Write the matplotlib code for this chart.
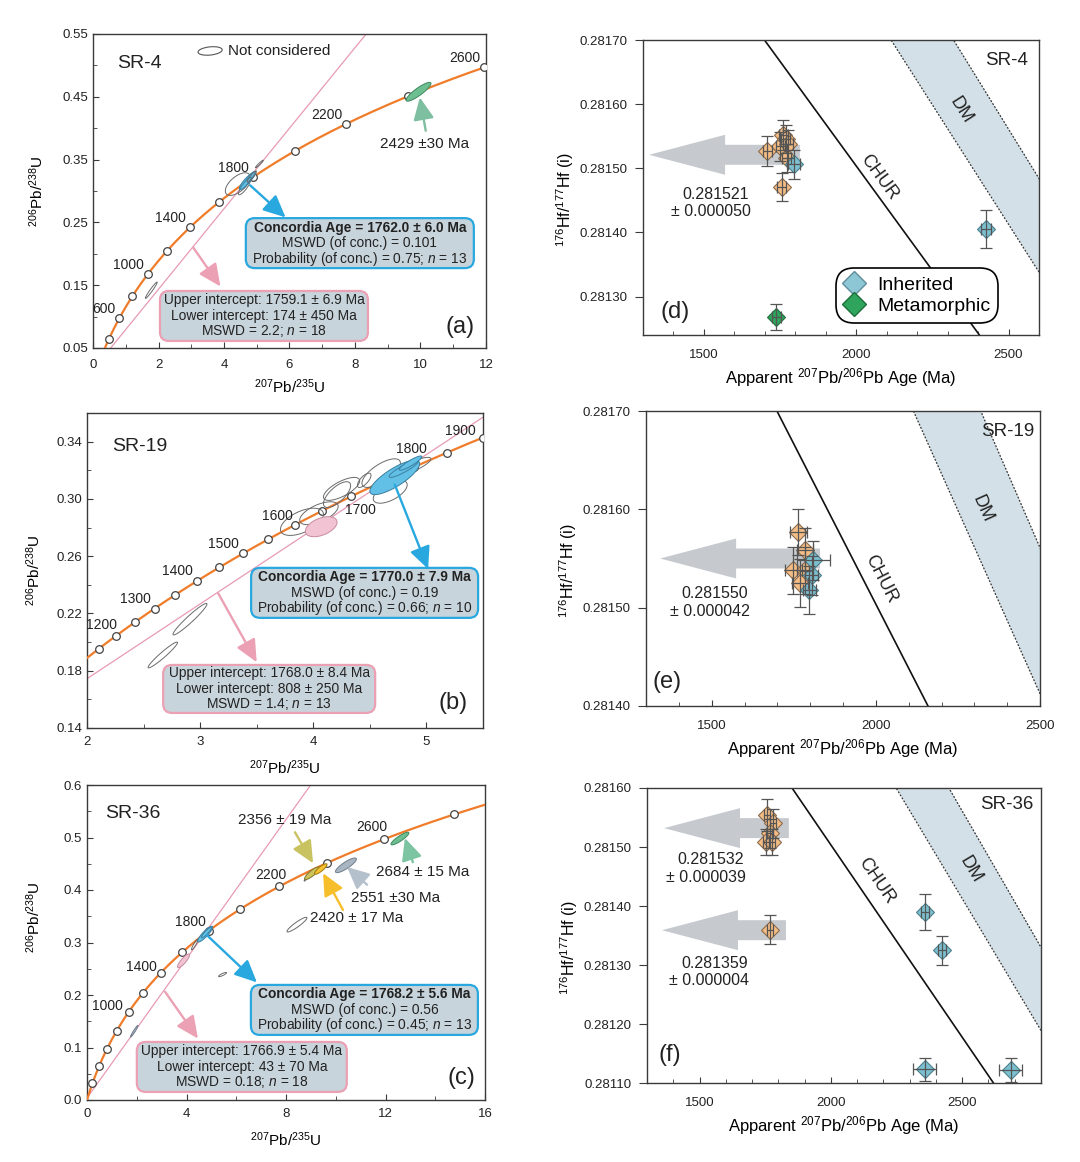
import numpy as np
import matplotlib
matplotlib.use("Agg")
import matplotlib.pyplot as plt
from matplotlib.patches import FancyBboxPatch, Ellipse, FancyArrow
from matplotlib.lines import Line2D
from matplotlib.ticker import FormatStrFormatter

plt.rcParams['font.family'] = ['Liberation Sans', 'DejaVu Sans']
plt.rcParams['mathtext.fontset'] = 'custom'
plt.rcParams['mathtext.rm'] = 'Liberation Sans'
plt.rcParams['mathtext.it'] = 'Liberation Sans:italic'
plt.rcParams['mathtext.bf'] = 'Liberation Sans:bold'

FIG_W, FIG_H = 1080, 1162

# decay constants (1/yr) used for the concordia curve
LAMBDA_238 = 1.55125e-10
LAMBDA_235 = 9.8485e-10

# ---------------- U-Pb concordia data ----------------
# SR-4 (a)
a_tick_ages = [400, 600, 800, 1000, 1200, 1400, 1600, 1800, 2000, 2200, 2400, 2600]
a_label_ages = [600, 1000, 1400, 1800, 2200, 2600]
a_conc = [1762.0, 6.0]
a_conc_mswd, a_conc_prob, a_conc_n = 0.101, 0.75, 13
a_upper = [1759.1, 6.9]
a_lower = [174, 450]
a_disc_mswd, a_disc_n = 2.2, 18
a_single = [(2429, 30)]
# ellipses: group, 207/235, 206/238, half-range x, half-range y, rho
a_ellipses = [
    ('grey', 1.78, 0.142, 0.18, 0.013, 0.97),
    ('grey', 4.42, 0.311, 0.38, 0.018, 0.60),
    ('grey', 5.08, 0.343, 0.12, 0.006, 0.96),
    ('grey', 4.62, 0.306, 0.18, 0.012, 0.85),
    ('blue', 4.72, 0.317, 0.25, 0.014, 0.90),
    ('blue', 4.80, 0.321, 0.16, 0.010, 0.92),
    ('blue', 4.66, 0.312, 0.17, 0.010, 0.92),
    ('grey', 4.85, 0.323, 0.14, 0.009, 0.92),
    ('green', 9.94, 0.458, 0.38, 0.015, 0.88),
]

# SR-19 (b)
b_tick_ages = [1150, 1200, 1250, 1300, 1350, 1400, 1450, 1500, 1550, 1600,
               1650, 1700, 1750, 1800, 1850, 1900]
b_label_ages = [1200, 1300, 1400, 1500, 1600, 1700, 1800, 1900]
b_conc = [1770.0, 7.9]
b_conc_mswd, b_conc_prob, b_conc_n = 0.19, 0.66, 10
b_upper = [1768.0, 8.4]
b_lower = [808, 250]
b_disc_mswd, b_disc_n = 1.4, 13
b_ellipses = [
    ('grey', 2.67, 0.191, 0.13, 0.009, 0.96),
    ('grey', 2.91, 0.216, 0.15, 0.011, 0.96),
    ('grey', 3.90, 0.284, 0.19, 0.0095, 0.55),
    ('grey', 4.05, 0.290, 0.17, 0.008, 0.60),
    ('pink', 4.07, 0.2806, 0.14, 0.007, 0.45),
    ('grey', 4.21, 0.303, 0.12, 0.009, 0.70),
    ('grey', 4.25, 0.307, 0.16, 0.008, 0.70),
    ('grey', 4.45, 0.313, 0.06, 0.005, 0.70),
    ('grey', 4.60, 0.318, 0.17, 0.010, 0.70),
    ('grey', 4.68, 0.305, 0.15, 0.008, 0.60),
    ('grey', 4.86, 0.322, 0.18, 0.007, 0.85),
    ('blue', 4.72, 0.315, 0.22, 0.012, 0.80),
    ('blue', 4.80, 0.321, 0.13, 0.006, 0.90),
    ('blue', 4.86, 0.325, 0.10, 0.005, 0.90),
]

# SR-36 (c)
c_tick_ages = [200, 400, 600, 800, 1000, 1200, 1400, 1600, 1800, 2000, 2200,
               2400, 2600, 2800]
c_label_ages = [1000, 1400, 1800, 2200, 2600]
c_conc = [1768.2, 5.6]
c_conc_mswd, c_conc_prob, c_conc_n = 0.56, 0.45, 13
c_upper = [1766.9, 5.4]
c_lower = [43, 70]
c_disc_mswd, c_disc_n = 0.18, 18
c_single = [(2356, 19), (2420, 17), (2551, 30), (2684, 15)]
c_ellipses = [
    ('slate', 1.90, 0.131, 0.15, 0.011, 0.96),
    ('pink', 3.88, 0.265, 0.24, 0.013, 0.85),
    ('grey', 4.33, 0.296, 0.13, 0.010, 0.92),
    ('blue', 4.75, 0.316, 0.30, 0.015, 0.88),
    ('blue', 4.80, 0.319, 0.20, 0.010, 0.90),
    ('grey', 5.45, 0.239, 0.16, 0.004, 0.85),
    ('grey', 8.44, 0.334, 0.40, 0.014, 0.92),
    ('grey', 8.85, 0.425, 0.12, 0.008, 0.92),
    ('olive', 9.05, 0.432, 0.30, 0.012, 0.85),
    ('yellow', 9.40, 0.440, 0.25, 0.010, 0.85),
    ('slate', 10.41, 0.447, 0.42, 0.014, 0.85),
    ('green', 12.58, 0.498, 0.36, 0.012, 0.88),
]

# ---------------- Lu-Hf data ----------------
chur_ages = [1300, 2800]
chur_hf = [0.281960, 0.280982]
dm_ages = [1300, 2800]
dm_lower = [0.282307, 0.281189]
dm_upper = [0.282485, 0.281330]

# SR-4 (d)
d_core_age = [1708, 1750, 1760, 1768, 1776, 1772, 1755]
d_core_hf = [0.281527, 0.281534, 0.281552, 0.281546, 0.281538, 0.281516, 0.281471]
d_core_age_err = [15, 15, 15, 15, 15, 15, 15]
d_core_hf_err = [0.000023, 0.000022, 0.000023, 0.000022, 0.000022, 0.000022, 0.000022]
d_inh_age = [1797, 2426]
d_inh_hf = [0.281506, 0.281405]
d_inh_age_err = [20, 15]
d_inh_hf_err = [0.000023, 0.000030]
d_met_age = [1737]
d_met_hf = [0.281268]
d_met_age_err = [15]
d_met_hf_err = [0.000020]
d_means = [0.281521]
d_mean_errs = [0.000050]

# SR-19 (e)
e_core_age = [1764, 1784, 1749, 1784, 1769]
e_core_hf = [0.281577, 0.281559, 0.281538, 0.281538, 0.281525]
e_core_age_err = [25, 25, 25, 25, 25]
e_core_hf_err = [0.000023, 0.000022, 0.000024, 0.000024, 0.000024]
e_inh_age = [1810, 1805, 1797]
e_inh_hf = [0.281548, 0.281533, 0.281518]
e_inh_age_err = [50, 20, 20]
e_inh_hf_err = [0.000020, 0.000020, 0.000024]
e_means = [0.281550]
e_mean_errs = [0.000042]

# SR-36 (f)
f_core_age = [1758, 1781, 1768, 1753, 1776, 1768]
f_core_hf = [0.281554, 0.281540, 0.281523, 0.281509, 0.281509, 0.281360]
f_core_age_err = [12, 12, 12, 12, 12, 12]
f_core_hf_err = [0.000027, 0.000025, 0.000024, 0.000022, 0.000022, 0.000025]
f_inh_age = [2358, 2422, 2358, 2685]
f_inh_hf = [0.281390, 0.281325, 0.281123, 0.281122]
f_inh_age_err = [15, 15, 44, 44]
f_inh_hf_err = [0.000030, 0.000025, 0.000020, 0.000020]
f_means = [0.281532, 0.281359]
f_mean_errs = [0.000039, 0.000004]

# ---------------- styles ----------------
ELL_STYLE = {
    'grey': dict(fc='none', ec='#6a6a6a'),
    'blue': dict(fc='#62C0E6', ec='#3A7FA0'),
    'green': dict(fc='#6DBE91', ec='#3E8A60'),
    'pink': dict(fc='#F2C4D3', ec='#C98AA0'),
    'olive': dict(fc='#CFC45A', ec='#7E7630'),
    'yellow': dict(fc='#F6C22E', ec='#9E7A10'),
    'slate': dict(fc='#A9B6C2', ec='#6F7E8C'),
}
ORANGE = '#F07C2A'
PINK_LINE = '#E89AB5'
BLUE_ARROW = '#29A8E0'
PINK_ARROW = '#EBA0B4'
BOX_FACE = '#C8D4DB'


def concordia(age_ma):
    t = np.asarray(age_ma, dtype=float) * 1e6
    return np.exp(LAMBDA_235 * t) - 1, np.exp(LAMBDA_238 * t) - 1


fig = plt.figure(figsize=(FIG_W / 100, FIG_H / 100), dpi=100)


def add_ax(l, t, r, b):
    return fig.add_axes([l / FIG_W, 1 - b / FIG_H, (r - l) / FIG_W, (b - t) / FIG_H])


def px_size(ax):
    p = ax.get_position()
    return p.width * FIG_W, p.height * FIG_H


def style_ax(ax, ydir='in', fs=9.5):
    for s in ax.spines.values():
        s.set_color('#3a3a3a')
        s.set_linewidth(1.0)
    ax.tick_params(which='both', direction='in', colors='#3a3a3a',
                   labelcolor='#222222', labelsize=fs)
    ax.tick_params(axis='y', which='both', direction=ydir)
    ax.tick_params(which='major', length=4)
    ax.tick_params(which='minor', length=3)
    ax.tick_params(axis='x', which='major', pad=8)


def draw_ellipses(ax, ells):
    t = np.linspace(0, 2 * np.pi, 90)
    for g, x, y, sx, sy, rho in ells:
        ex = x + sx * np.cos(t)
        ey = y + sy * (rho * np.cos(t) + np.sqrt(1 - rho ** 2) * np.sin(t))
        st = ELL_STYLE[g]
        ax.fill(ex, ey, fc=st['fc'], ec=st['ec'], lw=0.7, zorder=5)


def draw_concordia(ax, tick_ages, label_ages, offsets, upper, lower):
    ages = np.linspace(1, 3200, 900)
    cx, cy = concordia(ages)
    ax.plot(cx, cy, color=ORANGE, lw=1.6, zorder=3)
    tx, ty = concordia(tick_ages)
    ax.plot(tx, ty, 'o', ms=5.5, mfc='white', mec='#444444', mew=0.9, zorder=4)
    for age, (dx, dy, ha, va) in zip(label_ages, offsets):
        x, y = concordia(age)
        ax.annotate(str(age), (x, y), xytext=(dx * 0.72, dy * 0.72),
                    textcoords='offset points', ha=ha, va=va, fontsize=10,
                    color='#222222', zorder=7)
    # discordia through the two intercepts
    p1 = concordia(lower[0])
    p2 = concordia(upper[0])
    ax.axline((float(p1[0]), float(p1[1])), (float(p2[0]), float(p2[1])),
              color=PINK_LINE, lw=0.9, zorder=2)


def arrow(ax, start, end, color, lw=1.7):
    ax.annotate('', xy=end, xytext=start,
                arrowprops=dict(arrowstyle='-|>,head_length=0.9,head_width=0.42',
                                color=color, lw=lw, mutation_scale=15,
                                shrinkA=0, shrinkB=0), zorder=7)


def stat_box(ax, cx, cy, w_px, h_px, ec, lines, fs=9.9):
    W, H = px_size(ax)
    bw, bh = w_px / W, h_px / H
    patch = FancyBboxPatch((cx - bw / 2, cy - bh / 2), bw, bh,
                           boxstyle=f"round,pad=0,rounding_size={9 / W}",
                           mutation_aspect=W / H, transform=ax.transAxes,
                           fc=BOX_FACE, ec=ec, lw=1.6, zorder=8, clip_on=False)
    ax.add_patch(patch)
    dy = 15.5 / H
    for i, (txt, bold) in enumerate(lines):
        ax.text(cx, cy + (1 - i) * dy, txt, transform=ax.transAxes, ha='center',
                va='center', fontsize=fs, fontweight='bold' if bold else 'normal',
                color='#222222', zorder=9)


def conc_lines(conc, mswd, prob, n):
    return [(f"Concordia Age = {conc[0]:.1f} ± {conc[1]:.1f} Ma", True),
            (f"MSWD (of conc.) = {mswd:g}", False),
            (f"Probability (of conc.) = {prob:g}; $n$ = {n}", False)]


def disc_lines(upper, lower, mswd, n):
    return [(f"Upper intercept: {upper[0]:.1f} ± {upper[1]:.1f} Ma", False),
            (f"Lower intercept: {lower[0]} ± {lower[1]} Ma", False),
            (f"MSWD = {mswd:g}; $n$ = {n}", False)]


def upb_labels(ax, xlab_y, ylab_x, ylab_y=0.5):
    ax.set_xlabel('$^{207}$Pb/$^{235}$U', fontsize=11)
    ax.set_ylabel('$^{206}$Pb/$^{238}$U', fontsize=11)
    ax.xaxis.set_label_coords(0.5, xlab_y)
    ax.yaxis.set_label_coords(ylab_x, ylab_y)


# ================= (a) SR-4 =================
ax = add_ax(93, 34, 486, 348)
style_ax(ax)
ax.set_xlim(0, 12)
ax.set_ylim(0.05, 0.55)
ax.set_xticks([0, 2, 4, 6, 8, 10, 12])
ax.set_xticks([1, 3, 5, 7, 9, 11], minor=True)
ax.set_yticks([0.05, 0.15, 0.25, 0.35, 0.45, 0.55])
ax.set_yticks([0.10, 0.20, 0.30, 0.40, 0.50], minor=True)
ax.yaxis.set_major_formatter(FormatStrFormatter('%.2f'))
draw_concordia(ax, a_tick_ages, a_label_ages, [(-4, 2, 'right', 'bottom')] * 6,
               a_upper, a_lower)
draw_ellipses(ax, a_ellipses)
arrow(ax, (4.8, 0.309), (5.88, 0.258), BLUE_ARROW)
arrow(ax, (3.06, 0.210), (3.89, 0.148), PINK_ARROW)
arrow(ax, (10.16, 0.396), (9.98, 0.449), '#7DBFA0')
ax.text(10.13, 0.375, f"{a_single[0][0]} ±{a_single[0][1]} Ma", ha='center',
        va='center', fontsize=11, color='#222222', zorder=7)
stat_box(ax, 0.679, 0.334, 228, 50, BLUE_ARROW,
         conc_lines(a_conc, a_conc_mswd, a_conc_prob, a_conc_n))
stat_box(ax, 0.435, 0.102, 208, 50, PINK_ARROW,
         disc_lines(a_upper, a_lower, a_disc_mswd, a_disc_n))
ax.add_patch(Ellipse((0.298, 0.946), 0.062, 0.026, angle=8, transform=ax.transAxes,
                     fc='none', ec='#555555', lw=0.8))
ax.text(0.343, 0.946, 'Not considered', transform=ax.transAxes, ha='left',
        va='center', fontsize=11, color='#222222')
ax.text(0.061, 0.906, 'SR-4', transform=ax.transAxes, ha='left', va='center',
        fontsize=14, color='#222222')
ax.text(0.934, 0.067, '(a)', transform=ax.transAxes, ha='center', va='center',
        fontsize=17, color='#222222')
upb_labels(ax, -0.095, -0.12)

# ================= (b) SR-19 =================
ax = add_ax(87, 413, 483, 728)
style_ax(ax)
ax.tick_params(axis='x', which='major', pad=6)
ax.set_xlim(2, 5.5)
ax.set_ylim(0.14, 0.36)
ax.set_xticks([2, 3, 4, 5])
ax.set_xticks([2.5, 3.5, 4.5], minor=True)
ax.set_yticks([0.14, 0.18, 0.22, 0.26, 0.30, 0.34])
ax.set_yticks([0.16, 0.20, 0.24, 0.28, 0.32, 0.36], minor=True)
ax.yaxis.set_major_formatter(FormatStrFormatter('%.2f'))
b_offsets = [(1, 4, 'right', 'bottom'), (-4, 3, 'right', 'bottom'),
             (-4, 3, 'right', 'bottom'), (-4, 2, 'right', 'bottom'),
             (-2, 2, 'right', 'bottom'), (-6, -7, 'left', 'top'),
             (-2, 11, 'center', 'bottom'), (-7, 0, 'right', 'bottom')]
draw_concordia(ax, b_tick_ages, b_label_ages, b_offsets, b_upper, b_lower)
draw_ellipses(ax, b_ellipses)
arrow(ax, (4.72, 0.310), (5.015, 0.251), BLUE_ARROW)
arrow(ax, (3.16, 0.234), (3.50, 0.186), PINK_ARROW)
stat_box(ax, 0.701, 0.429, 227, 50, BLUE_ARROW,
         conc_lines(b_conc, b_conc_mswd, b_conc_prob, b_conc_n))
stat_box(ax, 0.460, 0.124, 212, 48, PINK_ARROW,
         disc_lines(b_upper, b_lower, b_disc_mswd, b_disc_n))
ax.text(0.063, 0.895, 'SR-19', transform=ax.transAxes, ha='left', va='center',
        fontsize=14, color='#222222')
ax.text(0.924, 0.079, '(b)', transform=ax.transAxes, ha='center', va='center',
        fontsize=17, color='#222222')
upb_labels(ax, -0.095, -0.11)

# ================= (c) SR-36 =================
ax = add_ax(87, 785, 485, 1100)
style_ax(ax)
ax.tick_params(axis='x', which='major', pad=6)
ax.set_xlim(0, 16)
ax.set_ylim(0, 0.6)
ax.set_xticks([0, 4, 8, 12, 16])
ax.set_xticks([2, 6, 10, 14], minor=True)
ax.set_yticks([0.0, 0.1, 0.2, 0.3, 0.4, 0.5, 0.6])
ax.set_yticks([0.05, 0.15, 0.25, 0.35, 0.45, 0.55], minor=True)
ax.yaxis.set_major_formatter(FormatStrFormatter('%.1f'))
c_offsets = [(-6, -1, 'right', 'bottom'), (-4, -1, 'right', 'bottom'),
             (-3, 2, 'right', 'bottom'), (7, 4, 'right', 'bottom'),
             (3, 5, 'right', 'bottom')]
draw_concordia(ax, c_tick_ages, c_label_ages, c_offsets, c_upper, c_lower)
draw_ellipses(ax, c_ellipses)
arrow(ax, (4.82, 0.314), (6.83, 0.224), BLUE_ARROW)
arrow(ax, (3.14, 0.206), (4.46, 0.117), PINK_ARROW)
single_pos = [((7.94, 0.533), (8.36, 0.51), (9.09, 0.451), '#C9C261', ' '),
              ((10.85, 0.346), (10.29, 0.362), (9.49, 0.432), '#F5BE2A', ' '),
              ((12.42, 0.385), (11.26, 0.41), (10.45, 0.444), '#B4C0CC', ''),
              ((13.49, 0.435), (13.1, 0.453), (12.78, 0.499), '#7CC4A2', ' ')]
for (age, err), (tpos, s, e, col, sp) in zip(c_single, single_pos):
    arrow(ax, s, e, col)
    ax.text(tpos[0], tpos[1], f"{age} ±{sp}{err} Ma", ha='center', va='center',
            fontsize=11, color='#222222', zorder=7)
stat_box(ax, 0.697, 0.286, 227, 50, BLUE_ARROW,
         conc_lines(c_conc, c_conc_mswd, c_conc_prob, c_conc_n))
stat_box(ax, 0.389, 0.105, 210, 50, PINK_ARROW,
         disc_lines(c_upper, c_lower, c_disc_mswd, c_disc_n))
ax.text(0.045, 0.911, 'SR-36', transform=ax.transAxes, ha='left', va='center',
        fontsize=14, color='#222222')
ax.text(0.942, 0.070, '(c)', transform=ax.transAxes, ha='center', va='center',
        fontsize=17, color='#222222')
upb_labels(ax, -0.095, -0.11, 0.58)


# ================= Hf panels =================
def hf_base(ax, xlim, ylim, yticks, xminor):
    style_ax(ax, ydir='out', fs=9.5)
    ax.tick_params(axis='y', which='major', length=6, pad=5)
    ax.tick_params(axis='x', which='major', pad=10)
    ax.set_xlim(*xlim)
    ax.set_ylim(*ylim)
    ax.set_xticks([v for v in [1500, 2000, 2500] if xlim[0] <= v <= xlim[1]])
    ax.set_xticks(xminor, minor=True)
    ax.set_yticks(yticks)
    ax.yaxis.set_major_formatter(FormatStrFormatter('%.5f'))
    ax.fill_between(dm_ages, dm_lower, dm_upper, color='#D3E0E7', lw=0, zorder=1)
    for yy in (dm_lower, dm_upper):
        ax.plot(dm_ages, yy, color='#333333', lw=0.9, ls=(0, (1.5, 1.3)), zorder=2)
    ax.plot(chur_ages, chur_hf, color='#111111', lw=1.2, zorder=2)
    ax.set_xlabel('Apparent $^{207}$Pb/$^{206}$Pb Age (Ma)', fontsize=12)
    ax.set_ylabel('$^{176}$Hf/$^{177}$Hf (i)', fontsize=11.5)
    ax.xaxis.set_label_coords(0.5, -0.105)
    ax.yaxis.set_label_coords(-0.17, 0.46)


def line_angle(ax, xs, ys):
    W, H = px_size(ax)
    xr = np.diff(ax.get_xlim())[0] / W
    yr = np.diff(ax.get_ylim())[0] / H
    return np.degrees(np.arctan2((ys[1] - ys[0]) / yr, (xs[1] - xs[0]) / xr))


def ref_labels(ax, chur_xy, dm_xy):
    ang_c = line_angle(ax, chur_ages, chur_hf)
    ang_d = line_angle(ax, dm_ages, dm_lower)
    ax.text(chur_xy[0], chur_xy[1], 'CHUR', rotation=ang_c, ha='center',
            va='center', fontsize=13, color='#222222', rotation_mode='anchor')
    ax.text(dm_xy[0], dm_xy[1], 'DM', rotation=ang_d, ha='center',
            va='center', fontsize=13, color='#222222', rotation_mode='anchor')


def mean_arrow(ax, y, x_tail, x_tip):
    W, H = px_size(ax)
    xr = np.diff(ax.get_xlim())[0] / W
    yr = np.diff(ax.get_ylim())[0] / H
    ax.add_patch(FancyArrow(x_tail, y, x_tip - x_tail, 0, width=20 * yr,
                            head_width=40 * yr, head_length=76 * xr,
                            length_includes_head=True, fc='#C6CACE', ec='none',
                            zorder=3))


def mean_text(ax, x, y, m, e):
    ax.text(x, y, f"{m:.6f}", transform=ax.transAxes, ha='right', va='center',
            fontsize=11.5, color='#222222')
    ax.text(x + 0.004, y - 0.058, f"± {e:.6f}", transform=ax.transAxes, ha='right',
            va='center', fontsize=11.5, color='#222222')


def hf_points(ax, age, hf, aerr, herr, fc, ec):
    ax.plot(age, hf, 'D', ms=9.5, mfc=fc, mec=ec, mew=0.8, ls='none', zorder=5)
    ax.errorbar(age, hf, xerr=aerr, yerr=herr, fmt='none', ecolor='#555555',
                elinewidth=0.9, capsize=4, capthick=0.9, zorder=6)


ORANGE_PT = ('#F4BD85', '#8C6B4C')
BLUE_PT = ('#7CC0D0', '#4A7F8C')
GREEN_PT = ('#2FA45C', '#1E6E3C')

# (d)
ax = add_ax(643, 40, 1039, 335)
hf_base(ax, (1300, 2600), (0.28124, 0.2817),
        [0.2813, 0.2814, 0.2815, 0.2816, 0.2817],
        [1400, 1600, 1700, 1800, 1900, 2100, 2200, 2300, 2400])
mean_arrow(ax, d_means[0], 1815, 1320)
hf_points(ax, d_core_age, d_core_hf, d_core_age_err, d_core_hf_err, *ORANGE_PT)
hf_points(ax, d_inh_age, d_inh_hf, d_inh_age_err, d_inh_hf_err, *BLUE_PT)
hf_points(ax, d_met_age, d_met_hf, d_met_age_err, d_met_hf_err, *GREEN_PT)
mean_text(ax, 0.268, 0.475, d_means[0], d_mean_errs[0])
ref_labels(ax, (2075, 0.281486), (2344, 0.281591))
ax.text(0.972, 0.93, 'SR-4', transform=ax.transAxes, ha='right', va='center',
        fontsize=13.5, color='#222222')
ax.text(0.081, 0.078, '(d)', transform=ax.transAxes, ha='center', va='center',
        fontsize=17, color='#222222')
handles = [Line2D([], [], marker='D', ls='none', ms=12, mfc='#8DC6D4', mec='#5E8E9A'),
           Line2D([], [], marker='D', ls='none', ms=12, mfc=GREEN_PT[0], mec=GREEN_PT[1])]
leg = ax.legend(handles, ['Inherited', 'Metamorphic'], loc='lower right',
                bbox_to_anchor=(0.896, 0.041), borderaxespad=0, fontsize=14,
                handlelength=1.0, handletextpad=0.7, borderpad=0.4,
                labelspacing=0.2, frameon=True, fancybox=True, framealpha=1,
                edgecolor='black')
leg.get_frame().set_linewidth(1.2)
leg.get_frame().set_boxstyle('round', pad=0, rounding_size=0.9)

# (e)
ax = add_ax(646, 411, 1040, 706)
hf_base(ax, (1300, 2500), (0.2814, 0.2817),
        [0.2814, 0.2815, 0.2816, 0.2817],
        [1400, 1600, 1700, 1800, 1900, 2100, 2200, 2300, 2400])
mean_arrow(ax, e_means[0], 1830, 1343)
hf_points(ax, e_core_age, e_core_hf, e_core_age_err, e_core_hf_err, *ORANGE_PT)
hf_points(ax, e_inh_age, e_inh_hf, e_inh_age_err, e_inh_hf_err, *BLUE_PT)
mean_text(ax, 0.259, 0.380, e_means[0], e_mean_errs[0])
ref_labels(ax, (2016, 0.281529), (2323, 0.281600))
ax.text(0.985, 0.932, 'SR-19', transform=ax.transAxes, ha='right', va='center',
        fontsize=13.5, color='#222222')
ax.text(0.053, 0.081, '(e)', transform=ax.transAxes, ha='center', va='center',
        fontsize=17, color='#222222')

# (f)
ax = add_ax(647, 788, 1041, 1083)
hf_base(ax, (1300, 2800), (0.2811, 0.2816),
        [0.2811, 0.2812, 0.2813, 0.2814, 0.2815, 0.2816],
        [1400, 1600, 1700, 1800, 1900, 2100, 2200, 2300, 2400, 2600, 2700])
mean_arrow(ax, f_means[0], 1840, 1365)
mean_arrow(ax, f_means[1], 1829, 1357)
hf_points(ax, f_core_age, f_core_hf, f_core_age_err, f_core_hf_err, *ORANGE_PT)
hf_points(ax, f_inh_age, f_inh_hf, f_inh_age_err, f_inh_hf_err, *BLUE_PT)
mean_text(ax, 0.246, 0.756, f_means[0], f_mean_errs[0])
mean_text(ax, 0.256, 0.405, f_means[1], f_mean_errs[1])
ref_labels(ax, (2172, 0.281442), (2533, 0.281461))
ax.text(0.98, 0.943, 'SR-36', transform=ax.transAxes, ha='right', va='center',
        fontsize=13.5, color='#222222')
ax.text(0.058, 0.095, '(f)', transform=ax.transAxes, ha='center', va='center',
        fontsize=17, color='#222222')

fig.savefig('out.png', dpi=100, facecolor='white')
